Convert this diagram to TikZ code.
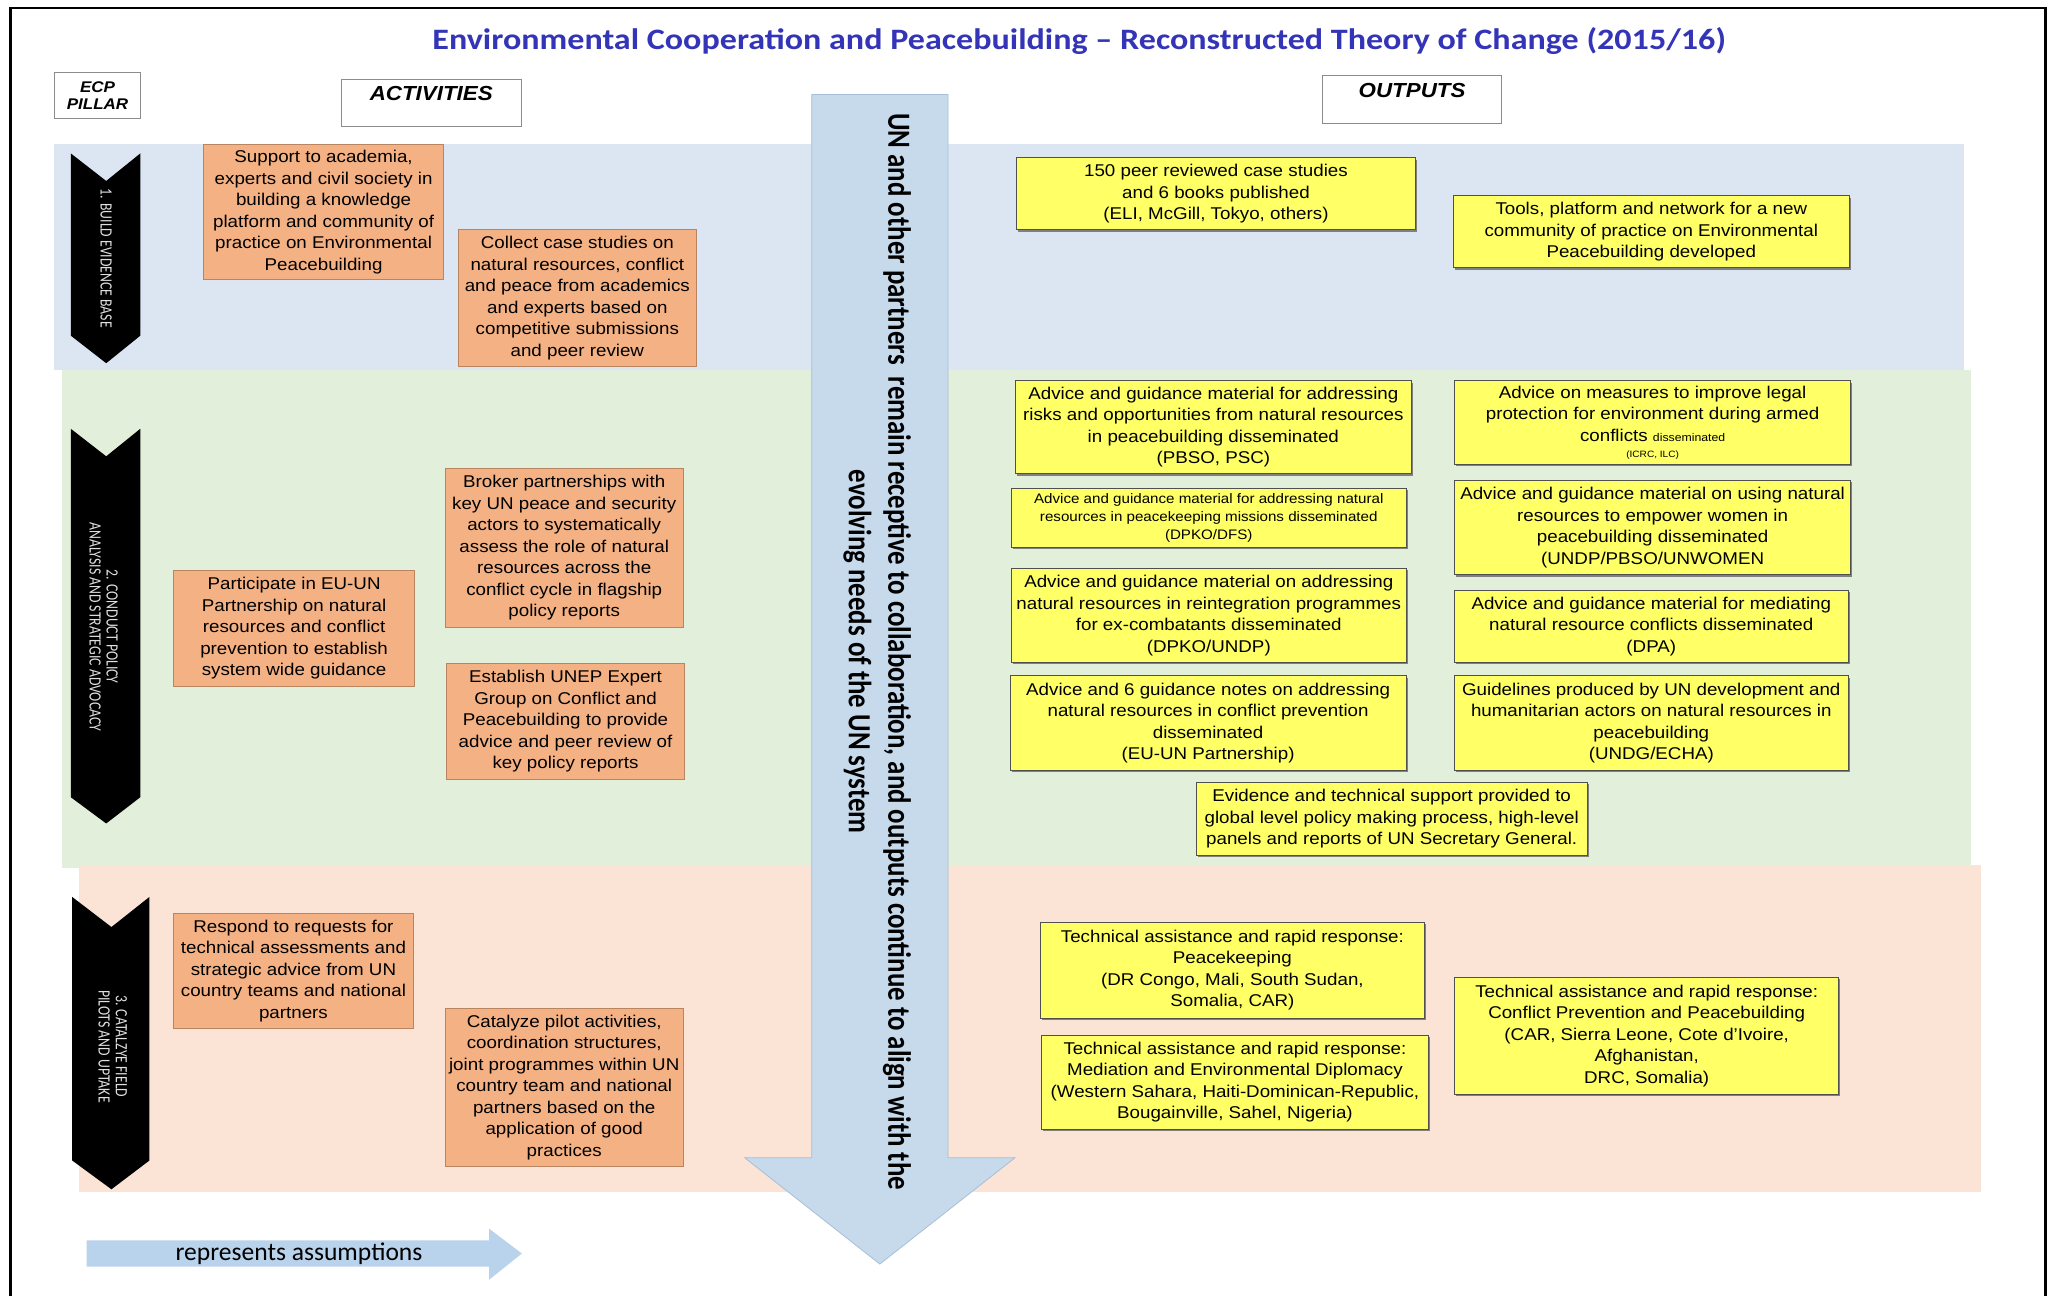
\documentclass[tikz,border=0pt]{standalone}
\usepackage{fontspec}
\setmainfont{Liberation Sans}[FakeStretch=1.1]
\newfontfamily\calfont{Carlito}
\newfontfamily\titlefont{Carlito}[FakeStretch=1.15]
\usetikzlibrary{shadows}
\definecolor{bandblue}{HTML}{DCE6F2}
\definecolor{bandgreen}{HTML}{E2EFDA}
\definecolor{bandpeach}{HTML}{FBE4D6}
\definecolor{actfill}{HTML}{F4B183}
\definecolor{actborder}{HTML}{B98560}
\definecolor{outfill}{HTML}{FFFF66}
\definecolor{outborder}{HTML}{505050}
\definecolor{arrowfill}{HTML}{C6DAEC}
\definecolor{arrowborder}{HTML}{A6BED8}
\definecolor{smallarrow}{HTML}{BAD3EC}
\definecolor{titleblue}{HTML}{3434B8}
\tikzset{
  actbox/.style={draw=actborder, line width=0.6pt, fill=actfill, align=center, inner sep=0pt, anchor=north west, font=\fontsize{13}{16.4}\selectfont},
  outbox/.style={draw=outborder, line width=0.7pt, fill=outfill, align=center, inner sep=0pt, anchor=north west, font=\fontsize{13}{16.4}\selectfont, general shadow={fill=black!50, shadow xshift=1.2pt, shadow yshift=-1.4pt}},
  hdrbox/.style={draw=black!45, line width=0.8pt, fill=white, inner sep=0pt, anchor=north west, align=center},
  pillarshape/.style={fill=black},
  pillartext/.style={rotate=-90, text=white!88!black, align=center, font=\calfont\fontsize{10.5}{13}\selectfont},
}
\newcommand{\tallrow}[1]{\scalebox{1}[1.25]{#1}}
\begin{document}
\begin{tikzpicture}[x=1pt,y=-1pt]
\useasboundingbox (0,0) rectangle (1568,988);
\fill[white] (0,0) rectangle (1568,988);
% frame
\draw[line width=1.6pt] (8,995) -- (8,6) -- (1560,6) -- (1560,995);
% title
\node[font=\titlefont\bfseries\fontsize{22.6}{26}\selectfont, text=titleblue] (title) at (823,31) {Environmental Cooperation and Peacebuilding – Reconstructed Theory of Change (2015/16)};
% bands
\fill[bandblue] (41,110) rectangle (1498,282);
\fill[bandgreen] (47,282) rectangle (1503,662);
\fill[bandpeach] (60,660) rectangle (1511,909);
% headers
\node[hdrbox, minimum width=66pt, minimum height=35pt, font=\bfseries\itshape\fontsize{11.8}{13.5}\selectfont] (ecp) at (41,55) {ECP\\PILLAR};
\node[hdrbox, minimum width=137pt, minimum height=36pt, text depth=14pt, font=\bfseries\itshape\fontsize{15.5}{17}\selectfont] (acth) at (260,60) {ACTIVITIES};
\node[hdrbox, minimum width=137pt, minimum height=37pt, text depth=14pt, font=\bfseries\itshape\fontsize{15.5}{17}\selectfont] (outh) at (1008,57) {OUTPUTS};
% central assumption arrow
\draw[fill=arrowfill, draw=arrowborder, line width=0.6pt] (619,72) -- (723,72) -- (723,883) -- (774,883) -- (671,964) -- (568,883) -- (619,883) -- cycle;
\node[rotate=-90, align=center, font=\calfont\bfseries\fontsize{20.5}{30}\selectfont] (assume) at (669,497) {\scalebox{1}[1.2]{UN and other partners\ \ remain receptive to collaboration, and outputs continue to align with the}\\\scalebox{1}[1.2]{evolving needs of the UN system}};
% pillars
\fill[pillarshape] (54,117) -- (81,138) -- (107,117) -- (107,256) -- (81,277) -- (54,256) -- cycle;
\node[pillartext] (p1) at (81,197) {\tallrow{1. BUILD EVIDENCE BASE}};
\fill[pillarshape] (54,327) -- (81,348) -- (107,327) -- (107,608) -- (81,628) -- (54,608) -- cycle;
\node[pillartext] (p2) at (79,478) {\tallrow{2. CONDUCT POLICY}\\\tallrow{ANALYSIS AND STRATEGIC ADVOCACY}};
\fill[pillarshape] (55,684) -- (85,707) -- (114,684) -- (114,885) -- (85,907) -- (55,885) -- cycle;
\node[pillartext] (p3) at (86,798) {\tallrow{3. CATALZYE FIELD}\\\tallrow{PILOTS AND UPTAKE}};
% activities
\node[actbox, minimum width=183pt, minimum height=103pt] (a1) at (155,110) {Support to academia,\\experts and civil society in\\building a knowledge\\platform and community of\\practice on Environmental\\Peacebuilding};
\node[actbox, minimum width=182pt, minimum height=104pt] (a2) at (349,175) {Collect case studies on\\natural resources, conflict\\and peace from academics\\and experts based on\\competitive submissions\\and peer review};
\node[actbox, minimum width=182pt, minimum height=121pt] (a3) at (339,357) {Broker partnerships with\\key UN peace and security\\actors to systematically\\assess the role of natural\\resources across the\\conflict cycle in flagship\\policy reports};
\node[actbox, minimum width=184pt, minimum height=88pt] (a4) at (132,435) {Participate in EU-UN\\Partnership on natural\\resources and conflict\\prevention to establish\\system wide guidance};
\node[actbox, minimum width=182pt, minimum height=88pt] (a5) at (340,506) {Establish UNEP Expert\\Group on Conflict and\\Peacebuilding to provide\\advice and peer review of\\key policy reports};
\node[actbox, minimum width=183pt, minimum height=88pt] (a6) at (132,696) {Respond to requests for\\technical assessments and\\strategic advice from UN\\country teams and national\\partners};
\node[actbox, minimum width=182pt, minimum height=120pt] (a7) at (339,769) {Catalyze pilot activities,\\coordination structures,\\joint programmes within UN\\country team and national\\partners based on the\\application of good\\practices};
% outputs
\node[outbox, minimum width=304pt, minimum height=55pt] (o1) at (775,120) {150 peer reviewed case studies\\and 6 books published\\(ELI, McGill, Tokyo, others)};
\node[outbox, minimum width=302pt, minimum height=55pt] (o2) at (1108,149) {Tools, platform and network for a new\\community of practice on Environmental\\Peacebuilding developed};
\node[outbox, minimum width=302pt, minimum height=71pt] (o3) at (774,290) {Advice and guidance material for addressing\\risks and opportunities from natural resources\\in peacebuilding disseminated\\(PBSO, PSC)};
\node[outbox, minimum width=302pt, minimum height=64pt] (o4) at (1109,290) {Advice on measures to improve legal\\protection for environment during armed\\conflicts {\fontsize{8.5}{11}\selectfont disseminated}\\[-4pt]{\fontsize{7}{10}\selectfont (ICRC, ILC)}};
\node[outbox, minimum width=301pt, minimum height=45pt, font=\fontsize{10.5}{13.5}\selectfont] (o5) at (771,372) {Advice and guidance material for addressing natural\\resources in peacekeeping missions disseminated\\(DPKO/DFS)};
\node[outbox, minimum width=302pt, minimum height=72pt] (o6) at (1109,366) {Advice and guidance material on using natural\\resources to empower women in\\peacebuilding disseminated\\(UNDP/PBSO/UNWOMEN};
\node[outbox, minimum width=301pt, minimum height=72pt] (o7) at (771,433) {Advice and guidance material on addressing\\natural resources in reintegration programmes\\for ex-combatants disseminated\\(DPKO/UNDP)};
\node[outbox, minimum width=300pt, minimum height=55pt] (o8) at (1109,450) {Advice and guidance material for mediating\\natural resource conflicts disseminated\\(DPA)};
\node[outbox, minimum width=302pt, minimum height=72pt] (o9) at (770,515) {Advice and 6 guidance notes on addressing\\natural resources in conflict prevention\\disseminated\\(EU-UN Partnership)};
\node[outbox, minimum width=300pt, minimum height=72pt] (o10) at (1109,515) {Guidelines produced by UN development and\\humanitarian actors on natural resources in\\peacebuilding\\(UNDG/ECHA)};
\node[outbox, minimum width=298pt, minimum height=56pt] (o11) at (912,596) {Evidence and technical support provided to\\global level policy making process, high-level\\panels and reports of UN Secretary General.};
\node[outbox, minimum width=293pt, minimum height=73pt] (o12) at (793,703) {Technical assistance and rapid response:\\Peacekeeping\\(DR Congo, Mali, South Sudan,\\Somalia, CAR)};
\node[outbox, minimum width=295pt, minimum height=72pt] (o13) at (794,789) {Technical assistance and rapid response:\\Mediation and Environmental Diplomacy\\(Western Sahara, Haiti-Dominican-Republic,\\Bougainville, Sahel, Nigeria)};
\node[outbox, minimum width=293pt, minimum height=89pt] (o14) at (1109,745) {Technical assistance and rapid response:\\Conflict Prevention and Peacebuilding\\(CAR, Sierra Leone, Cote d’Ivoire,\\Afghanistan,\\DRC, Somalia)};
% legend arrow
\fill[smallarrow] (66,946) -- (373,946) -- (373,937) -- (398,956) -- (373,976) -- (373,966) -- (66,966) -- cycle;
\node[font=\calfont\fontsize{19.5}{22}\selectfont] (legend) at (228,956) {represents assumptions};
\end{tikzpicture}
\end{document}
